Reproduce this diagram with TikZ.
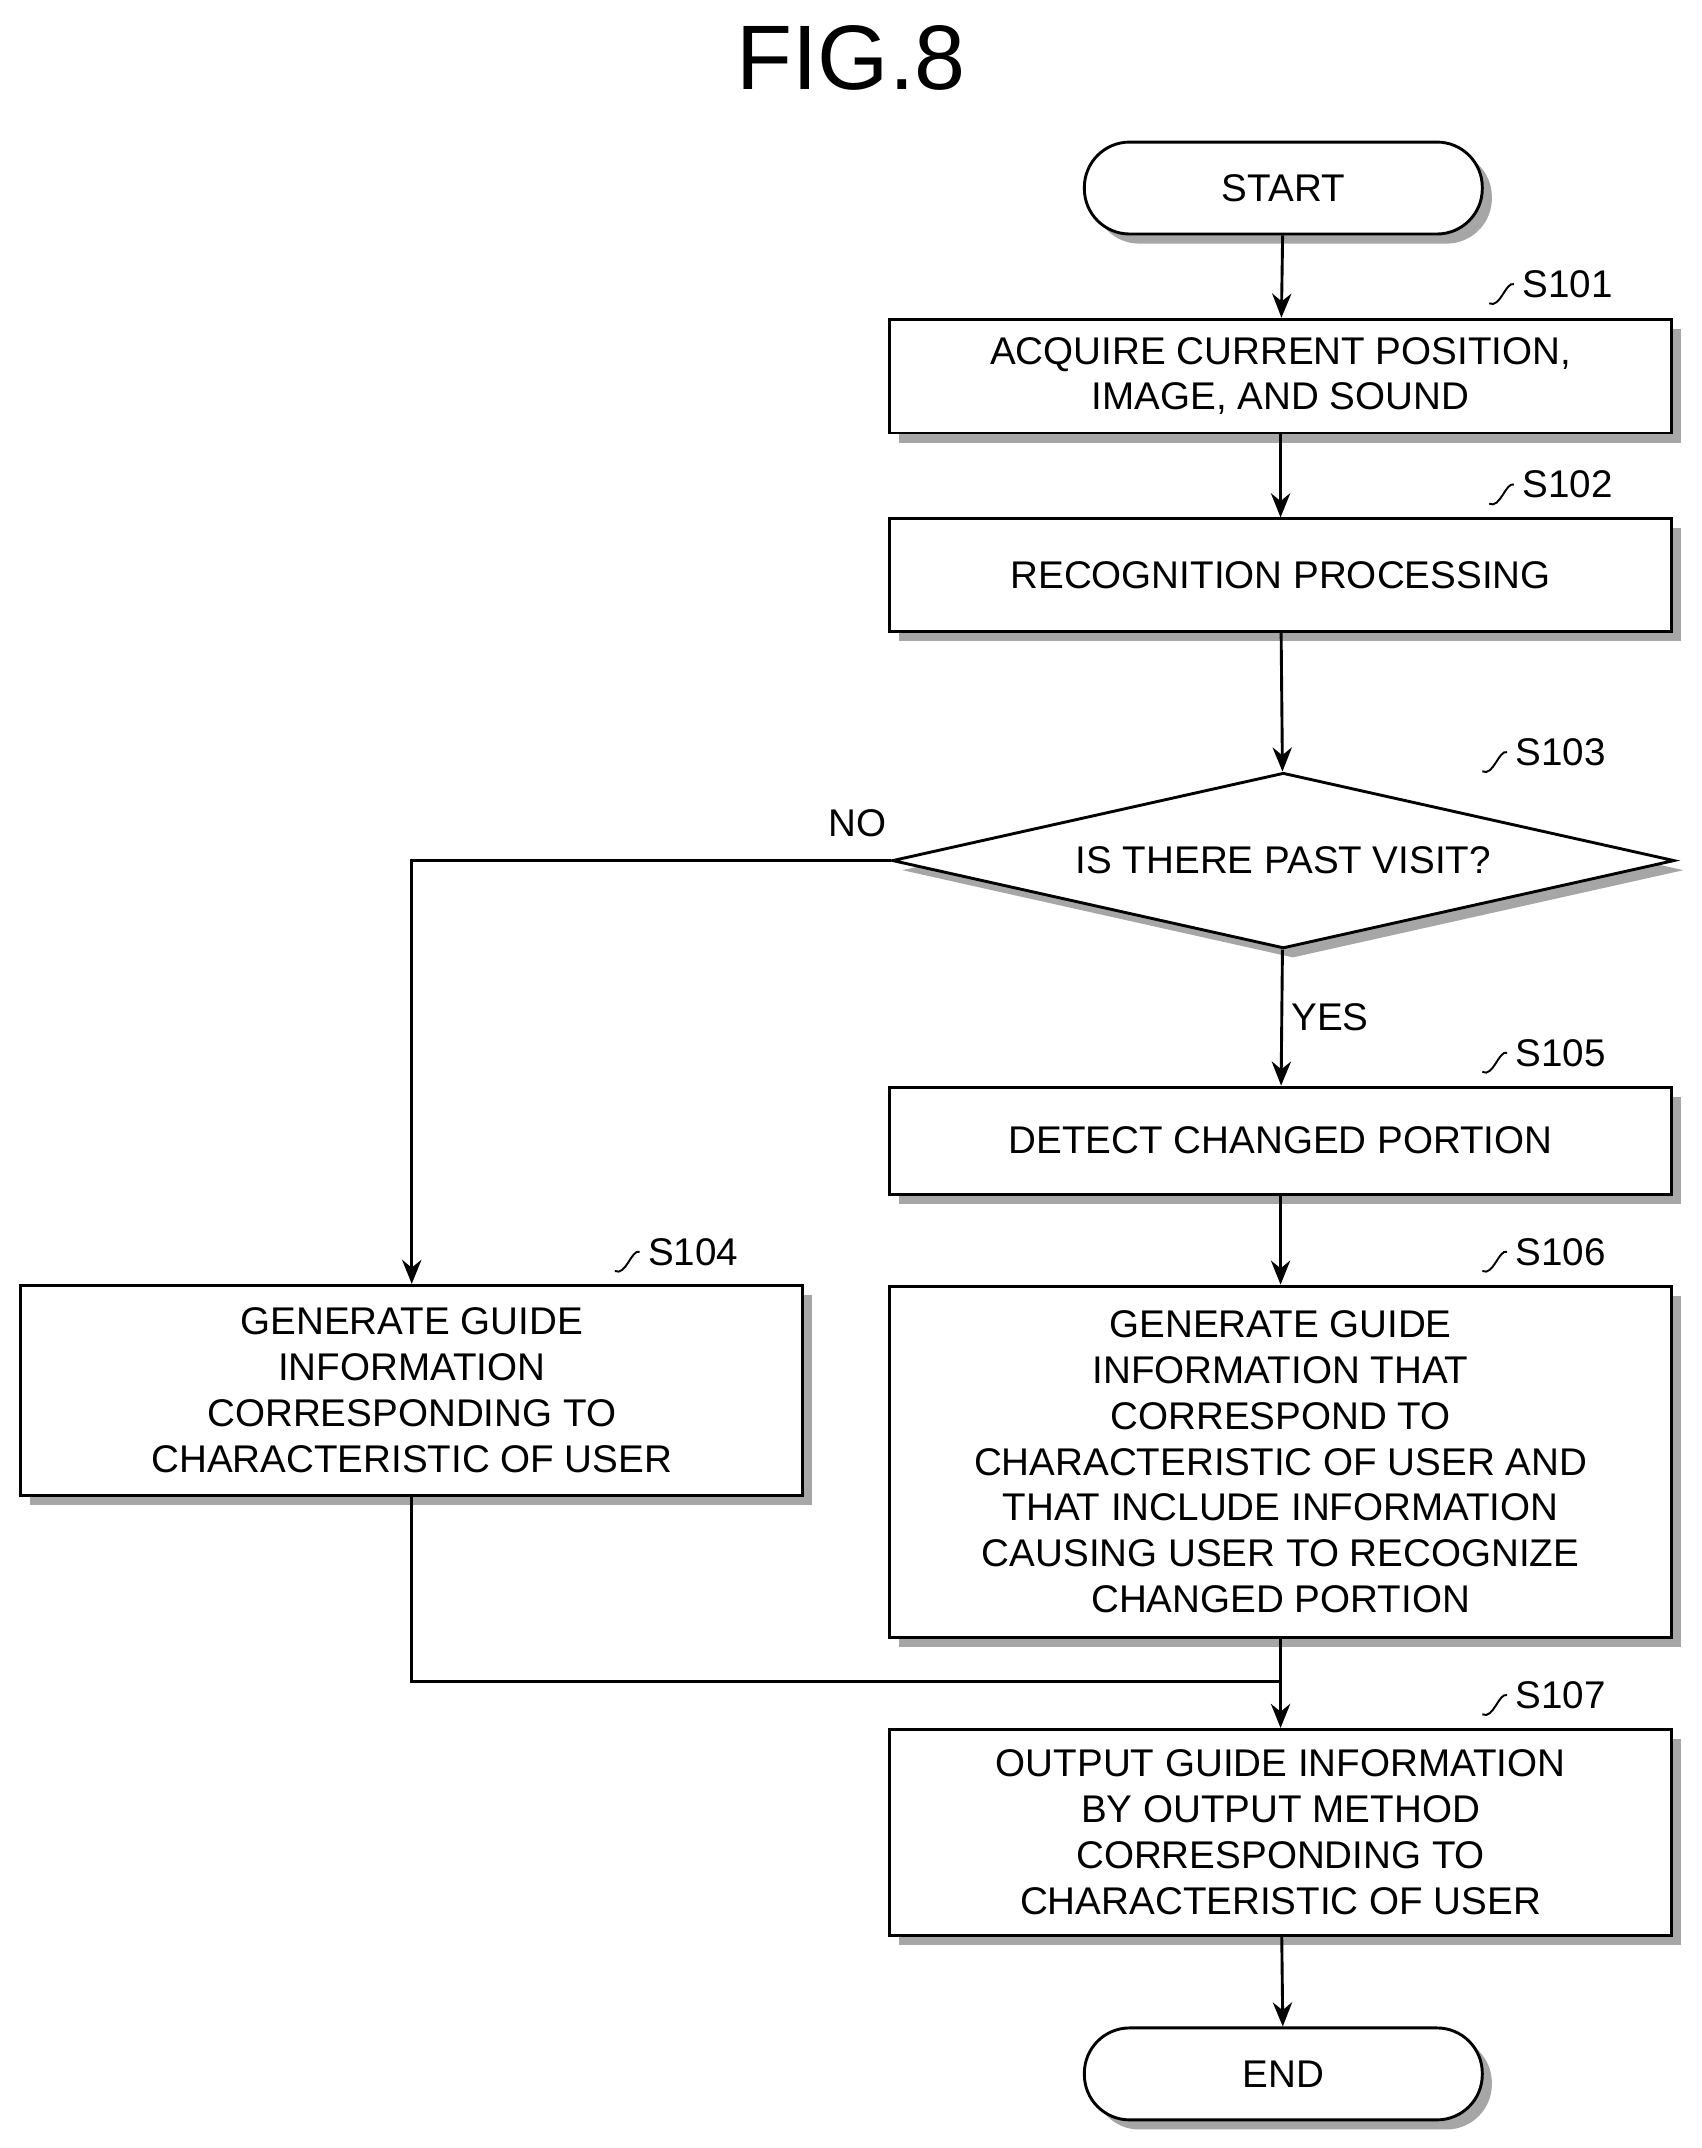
\documentclass[tikz,border=0pt]{standalone}
\usepackage{fontspec}
\setmainfont{Liberation Sans}
\usetikzlibrary{shapes.geometric,shadows,positioning,arrows.meta}
\tikzset{
  box/.style={draw, very thick, fill=white, minimum width=11.4cm, align=center,
    font=\fontsize{16}{19}\selectfont,
    drop shadow={shadow xshift=0.14cm, shadow yshift=-0.14cm, opacity=1, fill=gray!70}},
  term/.style={box, rounded corners=0.66cm, minimum width=5.8cm, minimum height=1.34cm},
  dec/.style={box, diamond, aspect=2.8, inner sep=0pt, minimum width=11.4cm},
  steplbl/.style={font=\fontsize{16}{19}\selectfont, anchor=west},
  arr/.style={very thick, -{Stealth[length=10pt,width=8pt]}},
}
\newcommand{\steplabel}[3]{% name, position, text
  \node[steplbl] (#1) at (#2) {#3};
  \draw[thick] (#1.west) .. controls +(-6,-2) and +(8,4) .. ++(-18,14);
}
\begin{document}
\begin{tikzpicture}[x=0.02cm, y=-0.02cm]
\useasboundingbox (0,0) rectangle (1240,1565);

\node[font=\fontsize{38}{40}\selectfont] (title) at (620,42) {FIG.8};

\node[term] (start) at (935,137) {START};
\node[box, minimum height=1.66cm] (s101) at (933,274) {ACQUIRE CURRENT POSITION,\\IMAGE, AND SOUND};
\node[box, minimum height=1.64cm] (s102) at (933,419) {RECOGNITION PROCESSING};
\node[dec] (s103) at (935,627) {IS THERE PAST VISIT?};
\node[box, minimum height=1.56cm] (s105) at (933,831) {DETECT CHANGED PORTION};
\node[box, minimum height=5.12cm] (s106) at (933,1065) {GENERATE GUIDE\\INFORMATION THAT\\CORRESPOND TO\\CHARACTERISTIC OF USER AND\\THAT INCLUDE INFORMATION\\CAUSING USER TO RECOGNIZE\\CHANGED PORTION};
\node[box, minimum height=3.06cm] (s104) at (300,1013) {GENERATE GUIDE\\INFORMATION\\CORRESPONDING TO\\CHARACTERISTIC OF USER};
\node[box, minimum height=3.0cm] (s107) at (933,1335) {OUTPUT GUIDE INFORMATION\\BY OUTPUT METHOD\\CORRESPONDING TO\\CHARACTERISTIC OF USER};
\node[term] (end) at (935,1511) {END};

% step numbers
\steplabel{l101}{1103,207}{S101}
\steplabel{l102}{1103,353}{S102}
\steplabel{l103}{1098,548}{S103}
\steplabel{l105}{1098,767}{S105}
\steplabel{l106}{1098,912}{S106}
\steplabel{l104}{466,912}{S104}
\steplabel{l107}{1098,1235}{S107}

% flow
\draw[arr] (start) -- (s101);
\draw[arr] (s101) -- (s102);
\draw[arr] (s102) -- (s103);
\draw[arr] (s103) -- node[right, font=\fontsize{16}{19}\selectfont]{YES} (s105);
\draw[arr] (s103.west) -| (s104.north);
\node[font=\fontsize{16}{19}\selectfont] (no) at (625,600) {NO};
\draw[arr] (s105) -- (s106);
\draw[arr] (s106) -- (s107);
\coordinate (join) at (s107.north |- 0,1225);
\draw[very thick] (s104.south) |- (join);
\draw[arr] (s107) -- (end);
\end{tikzpicture}
\end{document}
